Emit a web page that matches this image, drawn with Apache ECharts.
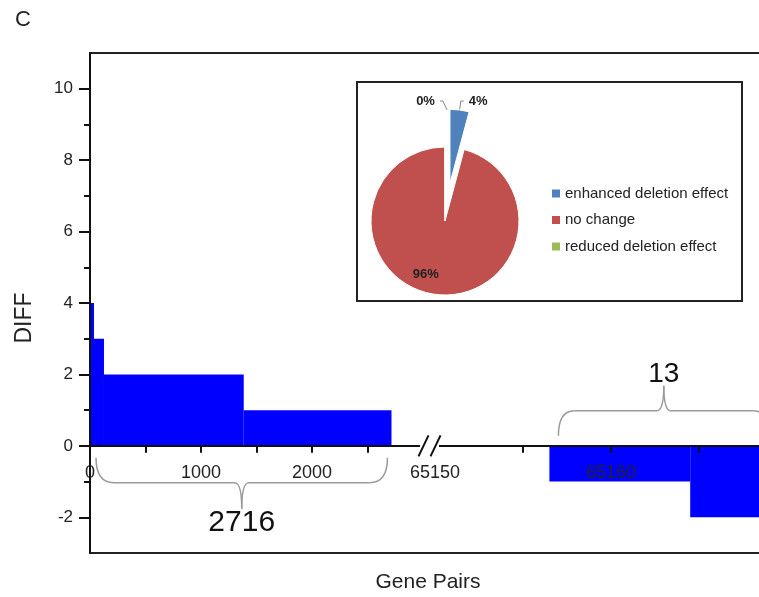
<!DOCTYPE html>
<html><head><meta charset="utf-8">
<script src="https://cdn.jsdelivr.net/npm/echarts@6/dist/echarts.min.js"></script>
<style>html,body{margin:0;padding:0;background:#fff}#c{width:759px;height:597px}</style>
</head><body><div id="c"></div>
<script>
// ---- data ----
const leftStart  = [0, 36, 126, 1385];
const leftEnd    = [36, 126, 1385, 2716];
const leftDiff   = [4, 3, 2, 1];
const rightStart = [65156.5, 65164.5];
const rightEnd   = [65164.5, 65169.5];
const rightDiff  = [-1, -2];
const yLabelValues = [-2, 0, 2, 4, 6, 8, 10];
const yMinorValues = [-1, 1, 3, 5, 7, 9];
const xLeftLabels  = [0, 1000, 2000];
const xLeftTicks   = [500, 1000, 1500, 2000, 2500];
const xRightLabels = [65150, 65160];
const xRightTicks  = [65155, 65160, 65165];
const pieNames  = ['enhanced deletion effect', 'no change', 'reduced deletion effect'];
const pieValues = [2716, 62440, 13];
const pieColors = ['#4F81BD', '#C0504D', '#9BBB59'];
const braceLeftLabel = '2716';
const braceRightLabel = '13';

const FONT = '"Liberation Sans", Arial, Helvetica, sans-serif';
const AX = '#111';
const TXT = '#222';
const YMIN = -3, YMAX = 11, GTOP = 53, GH = 500;
const LMAX = 3108, RMIN = 65150, RMAX = 65170;
// the zero line sits inside the grid: shift the category axis up to it
const zeroOffset = -((0 - YMIN) / (YMAX - YMIN)) * GH;

function renderStep(params, api) {
  const a = api.coord([api.value(0), api.value(2)]);
  const b = api.coord([api.value(1), 0]);
  return {
    type: 'rect',
    shape: { x: a[0], y: Math.min(a[1], b[1]), width: b[0] - a[0], height: Math.abs(b[1] - a[1]) },
    style: { fill: '#0000FF' }
  };
}
function frameAxis(gi, pos, min, max) {
  return { gridIndex: gi, type: 'value', position: pos, min: min, max: max,
    axisLine: { show: true, onZero: false, lineStyle: { color: '#222', width: 2 } },
    axisTick: { show: false }, axisLabel: { show: false }, splitLine: { show: false } };
}
function mainX(gi, min, max, ticks, labels) {
  return { gridIndex: gi, type: 'value', position: 'bottom', min: min, max: max, z: 5, offset: zeroOffset,
    axisLine: { onZero: false, lineStyle: { color: AX, width: 2 } },
    axisTick: { show: true, customValues: ticks, length: 7, lineStyle: { color: AX, width: 2 } },
    axisLabel: { customValues: labels, fontSize: 18, color: TXT, margin: 18, fontFamily: FONT,
      formatter: v => String(v) },
    splitLine: { show: false } };
}

const chart = echarts.init(document.getElementById('c'), null, { renderer: 'canvas' });
chart.setOption({
  animation: false,
  textStyle: { fontFamily: FONT },
  grid: [
    { left: 90, top: GTOP, width: 345, height: GH, outerBoundsMode: 'none' },
    { left: 435, top: GTOP, width: 352, height: GH, outerBoundsMode: 'none' }
  ],
  xAxis: [
    mainX(0, 0, LMAX, xLeftTicks, xLeftLabels),
    frameAxis(0, 'top', 0, LMAX),
    frameAxis(0, 'bottom', 0, LMAX),
    mainX(1, RMIN, RMAX, xRightTicks, xRightLabels),
    frameAxis(1, 'top', RMIN, RMAX),
    frameAxis(1, 'bottom', RMIN, RMAX)
  ],
  yAxis: [
    { gridIndex: 0, type: 'value', position: 'left', min: YMIN, max: YMAX, z: 5,
      axisLine: { show: true, onZero: false, lineStyle: { color: AX, width: 2 } },
      axisTick: { show: true, customValues: yLabelValues, length: 11, lineStyle: { color: AX, width: 2 } },
      axisLabel: { customValues: yLabelValues, fontSize: 17, color: TXT, margin: 17, fontFamily: FONT },
      splitLine: { show: false } },
    { gridIndex: 0, type: 'value', position: 'left', min: YMIN, max: YMAX, z: 5,
      axisLine: { show: false, onZero: false },
      axisTick: { show: true, customValues: yMinorValues, length: 6, lineStyle: { color: AX, width: 2 } },
      axisLabel: { show: false }, splitLine: { show: false } },
    { gridIndex: 1, type: 'value', min: YMIN, max: YMAX, show: false, axisLine: { onZero: false } }
  ],
  legend: {
    orient: 'vertical', left: 547, top: 181, itemWidth: 8, itemHeight: 8, itemGap: 11.5,
    icon: 'rect', selectedMode: false, data: pieNames,
    itemStyle: { borderWidth: 0 },
    textStyle: { fontSize: 15, color: TXT, fontFamily: FONT }
  },
  series: [
    { type: 'custom', xAxisIndex: 0, yAxisIndex: 0, clip: true, z: 2,
      data: leftStart.map((s, i) => [s, leftEnd[i], leftDiff[i]]),
      encode: { x: [0, 1], y: 2 }, renderItem: renderStep },
    { type: 'custom', xAxisIndex: 3, yAxisIndex: 2, clip: true, z: 2,
      data: rightStart.map((s, i) => [s, rightEnd[i], rightDiff[i]]),
      encode: { x: [0, 1], y: 2 }, renderItem: renderStep },
    { type: 'pie', center: [445, 221], radius: 74, startAngle: 90, clockwise: true,
      selectedMode: 'single', selectedOffset: 38, avoidLabelOverlap: false, percentPrecision: 0, z: 10,
      itemStyle: { borderColor: '#fff', borderWidth: 1 },
      label: { formatter: '{d}%', fontSize: 13, fontWeight: 'bold', color: TXT, fontFamily: FONT },
      labelLine: { lineStyle: { color: '#888', width: 1 } },
      emphasis: { disabled: true },
      labelLayout: function (p) {
        if (p.dataIndex !== 2 || !p.labelLinePoints) return {};
        const q1 = p.labelLinePoints[1], q2 = p.labelLinePoints[2];
        return { labelLinePoints: [[q1[0] + 2, q1[1] + 9], [q1[0] - 2, q1[1]], [q2[0], q2[1]]] };
      },
      data: [
        { name: pieNames[0], value: pieValues[0], selected: true,
          itemStyle: { color: pieColors[0] }, select: { itemStyle: { color: pieColors[0], borderColor: '#fff', borderWidth: 1 } },
          label: { position: 'outside' }, labelLine: { length: 9, length2: 3 } },
        { name: pieNames[1], value: pieValues[1], itemStyle: { color: pieColors[1] },
          label: { position: 'inside', offset: [-14, 14] } },
        { name: pieNames[2], value: pieValues[2], itemStyle: { color: pieColors[2] },
          label: { position: 'outside' }, labelLine: { length: 46, length2: 5 } }
      ] }
  ]
});

// annotations positioned from the axes
const pL = v => chart.convertToPixel({ xAxisIndex: 0, yAxisIndex: 0 }, v);
const pR = v => chart.convertToPixel({ xAxisIndex: 3, yAxisIndex: 2 }, v);
const y0 = pL([0, 0])[1];
const BR = { fill: 'none', stroke: '#9a9a9a', lineWidth: 1.5 };
function brace(a, b, yEnd, yMid, yTip, r) {
  const c = (a + b) / 2, s = Math.sign(yTip - yMid);
  return [
    { type: 'bezierCurve', z: 20, shape: { x1: a, y1: yEnd, cpx1: a, cpy1: yMid, x2: a + r, y2: yMid }, style: BR },
    { type: 'line', z: 20, shape: { x1: a + r, y1: yMid, x2: c - 6, y2: yMid }, style: BR },
    { type: 'bezierCurve', z: 20, shape: { x1: c - 6, y1: yMid, cpx1: c, cpy1: yMid + 2 * s, x2: c, y2: yTip }, style: BR },
    { type: 'bezierCurve', z: 20, shape: { x1: c, y1: yTip, cpx1: c, cpy1: yMid + 2 * s, x2: c + 6, y2: yMid }, style: BR },
    { type: 'line', z: 20, shape: { x1: c + 6, y1: yMid, x2: b - r, y2: yMid }, style: BR },
    { type: 'bezierCurve', z: 20, shape: { x1: b - r, y1: yMid, cpx1: b, cpy1: yMid, x2: b, y2: yEnd }, style: BR }
  ];
}
const la = pL([leftStart[0], 0])[0] + 6, lb = pL([leftEnd[leftEnd.length - 1], 0])[0] - 4;
const ra = pR([rightStart[0], 0])[0] + 9, rb = pR([rightEnd[rightEnd.length - 1], 0])[0] - 9;
const bx = pR([RMIN, 0])[0];

chart.setOption({
  graphic: [
    { type: 'text', x: 15, y: 20, style: { text: 'C', font: '22px ' + FONT, fill: TXT, verticalAlign: 'middle' } },
    { type: 'text', x: 25, y: 318, rotation: Math.PI / 2,
      style: { text: 'DIFF', font: '23px ' + FONT, fill: TXT, align: 'center', verticalAlign: 'middle' } },
    { type: 'text', x: 428, y: 582, style: { text: 'Gene Pairs', font: '21px ' + FONT, fill: TXT, align: 'center', verticalAlign: 'middle' } },
    { type: 'rect', z: 1, shape: { x: 357, y: 82, width: 385, height: 219 }, style: { fill: '#fff', stroke: '#222', lineWidth: 2 } }
  ].concat(brace(la, lb, y0 + 12, y0 + 37, y0 + 63, 18), brace(ra, rb, y0 - 10, y0 - 35, y0 - 60, 16), [
    { type: 'text', z: 20, x: (la + lb) / 2, y: y0 + 77, style: { text: braceLeftLabel, font: '30px ' + FONT, fill: '#111', align: 'center', verticalAlign: 'middle' } },
    { type: 'text', z: 20, x: (ra + rb) / 2, y: y0 - 72, style: { text: braceRightLabel, font: '28px ' + FONT, fill: '#111', align: 'center', verticalAlign: 'middle' } },
    { type: 'rect', z: 20, shape: { x: bx - 15, y: y0 - 3, width: 19, height: 6 }, style: { fill: '#fff' } },
    { type: 'line', z: 21, shape: { x1: bx - 16.5, y1: y0 + 10.5, x2: bx - 6.5, y2: y0 - 10.5 }, style: { stroke: AX, lineWidth: 2 } },
    { type: 'line', z: 21, shape: { x1: bx - 4.5, y1: y0 + 10.5, x2: bx + 5.5, y2: y0 - 10.5 }, style: { stroke: AX, lineWidth: 2 } }
  ])
});
</script>
</body></html>
